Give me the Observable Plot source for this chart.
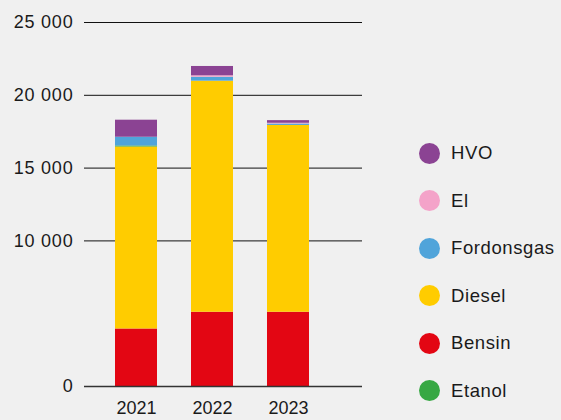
<!DOCTYPE html>
<html>
<head>
<meta charset="utf-8">
<script src="https://cdn.jsdelivr.net/npm/d3@7"></script>
<script src="https://cdn.jsdelivr.net/npm/@observablehq/plot@0.6"></script>
<style>
  html, body { margin: 0; padding: 0; background: #f0f0f0; }
  #wrap { position: relative; width: 561px; height: 420px; font-family: "Liberation Sans", Arial, Helvetica, sans-serif; }
  #legend { position: absolute; left: 419px; top: 129.5px; }
  .row { display: flex; align-items: center; height: 47.5px; font-size: 18.5px; letter-spacing: 0.6px; color: #1a1a1a; }
  .dot { width: 21px; height: 21px; border-radius: 50%; margin-right: 11px; }
  .yax text { letter-spacing: 0.8px; }
</style>
</head>
<body>
<div id="wrap"><div id="legend"></div></div>
<script>
const years = ["2021", "2022", "2023"];
const bensin     = [3950, 5100, 5100];
const diesel     = [12500, 15870, 12830];
const etanol     = [70, 0, 0];
const fordonsgas = [600, 270, 100];
const el         = [0, 100, 50];
const hvo        = [1170, 640, 180];

const legendOrder = ["HVO", "El", "Fordonsgas", "Diesel", "Bensin", "Etanol"];
const legendColors = ["#8b4393", "#f4a3c9", "#50a4da", "#ffcc00", "#e30613", "#37a843"];
const stackOrder = ["Bensin", "Diesel", "Etanol", "Fordonsgas", "El", "HVO"];
const yTicks = [0, 10000, 15000, 20000, 25000];

const series = {Bensin: bensin, Diesel: diesel, Etanol: etanol, Fordonsgas: fordonsgas, El: el, HVO: hvo};
const rows = [];
for (const fuel of stackOrder) {
  years.forEach((year, i) => rows.push({year, fuel, value: series[fuel][i]}));
}

const fmt = d => d3.format(",")(d).replace(/,/g, " ");

const chart = Plot.plot({
  width: 561,
  height: 420,
  marginTop: 22,
  marginBottom: 34,
  marginLeft: 84,
  marginRight: 199,
  style: {background: "transparent", fontFamily: "Liberation Sans, Arial, Helvetica, sans-serif", fontSize: "18px", color: "#1a1a1a"},
  x: {domain: years, padding: 0.4416, insetLeft: -4, insetRight: 17, label: null},
  y: {domain: [0, 25000], label: null},
  color: {domain: legendOrder, range: legendColors},
  marks: [
    Plot.ruleY(yTicks.filter(d => d > 0), {stroke: "#111", strokeWidth: 1}),
    Plot.barY(rows, {x: "year", y: "value", fill: "fuel", order: stackOrder}),
    Plot.ruleY([0], {stroke: "#333", strokeWidth: 1.5}),
    Plot.axisY({ticks: yTicks, tickSize: 0, tickPadding: 11, tickFormat: fmt, fontSize: 18, label: null, className: "yax"}),
    Plot.axisX({tickSize: 0, tickPadding: 15, fontSize: 18, label: null})
  ]
});
document.getElementById("wrap").prepend(chart);

const legend = document.getElementById("legend");
legendOrder.forEach((name, i) => {
  const row = document.createElement("div");
  row.className = "row";
  const dot = document.createElement("span");
  dot.className = "dot";
  dot.style.background = legendColors[i];
  const label = document.createElement("span");
  label.textContent = name;
  row.append(dot, label);
  legend.append(row);
});
</script>
</body>
</html>
